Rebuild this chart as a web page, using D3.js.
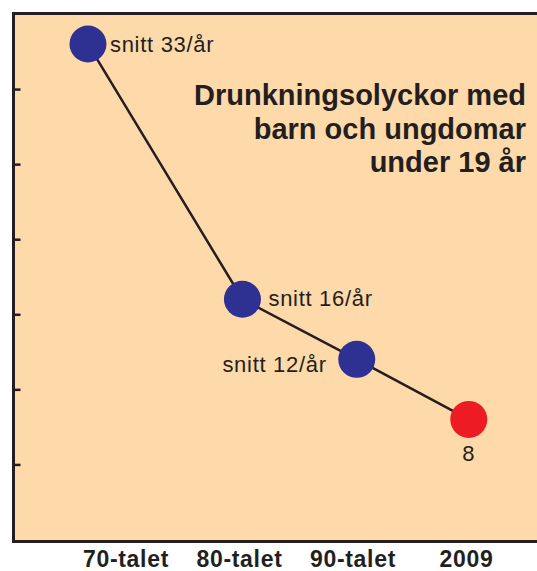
<!DOCTYPE html>
<html>
<head>
<meta charset="utf-8">
<script src="https://cdn.jsdelivr.net/npm/d3@7"></script>
<style>
  body { margin: 0; background: #fff; }
  svg text { font-family: "Liberation Sans", Arial, Helvetica, sans-serif; fill: #231f20; }
</style>
</head>
<body>
<div id="chart"></div>
<script>
// Data
const periods = ["70-talet", "80-talet", "90-talet", "2009"];
const values = [33, 16, 12, 8];
const pointPos = [-0.335, 1.026, 2.033, 3.02]; // where each dot sits relative to the period labels
const pointLabels = ["snitt 33/år", "snitt 16/år", "snitt 12/år", "8"];
const yTicks = [5, 10, 15, 20, 25, 30];
const titleLines = ["Drunkningsolyckor med", "barn och ungdomar", "under 19 år"];

const W = 537, H = 571;

const svg = d3.select("#chart")
    .append("svg")
    .attr("width", W)
    .attr("height", H);

// Scales
const x = d3.scaleLinear().domain([0, 3]).range([126, 466.5]);
const y = d3.scaleLinear().domain([0, 35]).range([539.5, 14]);

// Plot frame (right side runs off the picture)
svg.append("rect")
    .attr("x", 13.5)
    .attr("y", 13.5)
    .attr("width", 600)
    .attr("height", 528)
    .attr("fill", "#fed9a9")
    .attr("stroke", "#231f20")
    .attr("stroke-width", 3);

// Y axis: inward ticks only
const yAxis = svg.append("g")
    .attr("transform", "translate(13.5,0)")
    .call(d3.axisLeft(y).tickValues(yTicks).tickSize(-7).tickSizeOuter(0).tickFormat(""));
yAxis.select(".domain").remove();
yAxis.selectAll(".tick line").attr("stroke", "#231f20").attr("stroke-width", 2.5);

// Category labels
svg.selectAll(".cat")
    .data(periods)
    .join("text")
    .attr("class", "cat")
    .attr("x", (d, i) => x(i))
    .attr("y", 567)
    .attr("text-anchor", "middle")
    .style("font-size", "23px")
    .style("font-weight", "bold")
    .style("letter-spacing", "0.7px")
    .text(d => d);

// Line
const line = d3.line()
    .x((d, i) => x(pointPos[i]))
    .y(d => y(d));

svg.append("path")
    .datum(values)
    .attr("d", line)
    .attr("fill", "none")
    .attr("stroke", "#231f20")
    .attr("stroke-width", 2.5);

// Dots
svg.selectAll(".dot")
    .data(values)
    .join("circle")
    .attr("class", "dot")
    .attr("cx", (d, i) => x(pointPos[i]))
    .attr("cy", d => y(d))
    .attr("r", 18.5)
    .attr("fill", (d, i) => i === values.length - 1 ? "#ed1c24" : "#2e3192");

// Dot labels
const labelOffsets = [
    { dx: 22, dy: 8, anchor: "start" },
    { dx: 26, dy: 7, anchor: "start" },
    { dx: -30, dy: 13, anchor: "end" },
    { dx: 0, dy: 42, anchor: "middle" }
];

svg.selectAll(".plabel")
    .data(values)
    .join("text")
    .attr("class", "plabel")
    .attr("x", (d, i) => x(pointPos[i]) + labelOffsets[i].dx)
    .attr("y", (d, i) => y(d) + labelOffsets[i].dy)
    .attr("text-anchor", (d, i) => labelOffsets[i].anchor)
    .style("font-size", "22px")
    .style("letter-spacing", "0.7px")
    .text((d, i) => pointLabels[i]);

// Title
svg.append("text")
    .attr("text-anchor", "end")
    .style("font-size", "29px")
    .style("font-weight", "bold")
    .selectAll("tspan")
    .data(titleLines)
    .join("tspan")
    .attr("x", 526)
    .attr("y", (d, i) => 105 + i * 33.5)
    .text(d => d);
</script>
</body>
</html>
